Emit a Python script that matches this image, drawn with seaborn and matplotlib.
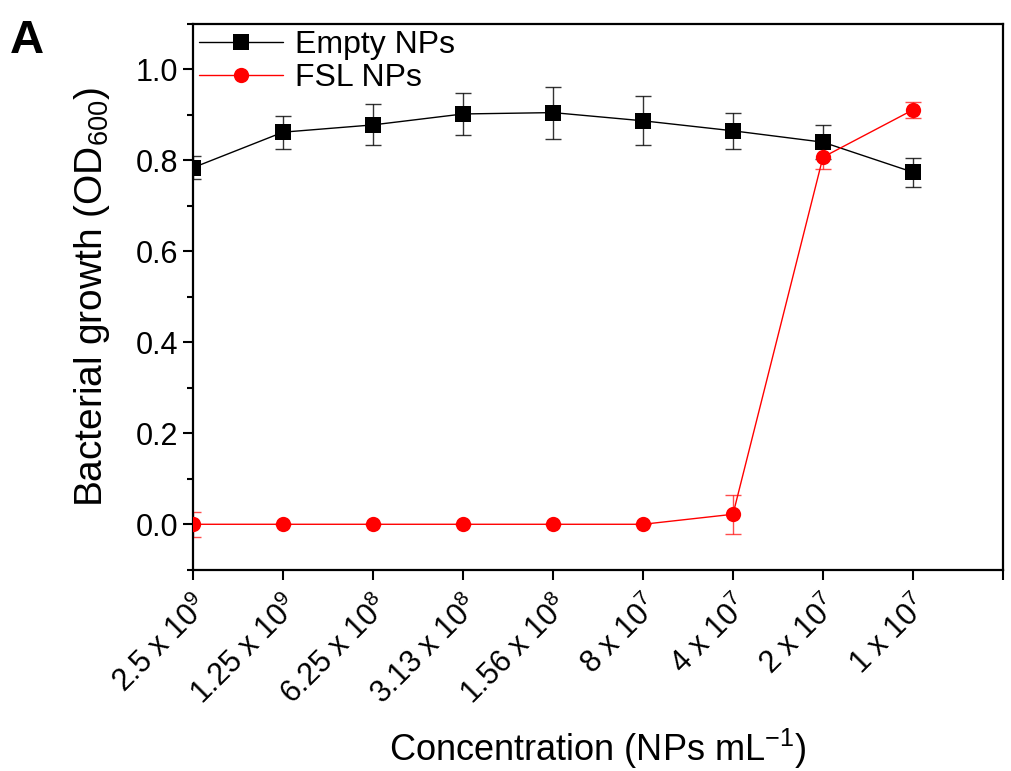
import matplotlib
matplotlib.use("Agg")
import matplotlib.pyplot as plt
from matplotlib.ticker import MultipleLocator
import numpy as np
import pandas as pd
import seaborn as sns

# ---- data ----
concentration_labels = ["2.5 x 10$^{9}$", "1.25 x 10$^{9}$", "6.25 x 10$^{8}$",
                        "3.13 x 10$^{8}$", "1.56 x 10$^{8}$", "8 x 10$^{7}$",
                        "4 x 10$^{7}$", "2 x 10$^{7}$", "1 x 10$^{7}$"]
empty_np = [0.784, 0.862, 0.878, 0.902, 0.905, 0.887, 0.865, 0.840, 0.774]
empty_err = [0.025, 0.036, 0.045, 0.046, 0.057, 0.054, 0.040, 0.038, 0.032]
fsl_np = [0.0, 0.0, 0.0, 0.0, 0.0, 0.0, 0.022, 0.807, 0.911]
fsl_err = [0.028, 0.0, 0.0, 0.0, 0.0, 0.0, 0.043, 0.026, 0.017]
series_names = ["Empty NPs", "FSL NPs"]
series_colors = ["#000000", "#ff0000"]

sns.set_style("ticks")
plt.rcParams["font.family"] = ["Liberation Sans", "DejaVu Sans"]
plt.rcParams["mathtext.default"] = "regular"
plt.rcParams["text.color"] = "black"
plt.rcParams["axes.labelcolor"] = "black"
plt.rcParams["xtick.color"] = "black"
plt.rcParams["ytick.color"] = "black"

pos = np.arange(len(concentration_labels))
df = pd.DataFrame({
    "x": np.concatenate([pos, pos]),
    "y": empty_np + fsl_np,
    "err": empty_err + fsl_err,
    "series": [series_names[0]] * len(pos) + [series_names[1]] * len(pos),
})

fig = plt.figure(figsize=(10.11, 7.71), dpi=100)
ax = fig.add_axes([0.191, 0.261, 0.801, 0.708])

palette = dict(zip(series_names, series_colors))
sns.lineplot(data=df, x="x", y="y", hue="series", style="series",
             markers={series_names[0]: "s", series_names[1]: "o"},
             dashes=False, palette=palette, markersize=11, linewidth=1.0,
             markeredgewidth=0, ax=ax, zorder=3)

for name, color in zip(series_names, series_colors):
    sub = df[df["series"] == name]
    ax.errorbar(sub["x"], sub["y"], yerr=sub["err"], fmt="none",
                ecolor=color, elinewidth=1.0, capsize=6, capthick=1.0, zorder=2,
                alpha=0.8 if color == "#000000" else 0.7)

ax.set_xlim(0, 9)
ax.set_ylim(-0.1, 1.1)
ax.set_xticks(np.arange(10))
ax.set_xticklabels(concentration_labels + [""], rotation=45, ha="right",
                   rotation_mode="anchor", fontsize=22)
ax.yaxis.set_major_locator(MultipleLocator(0.2))
ax.yaxis.set_minor_locator(MultipleLocator(0.1))
ax.set_yticks([0.0, 0.2, 0.4, 0.6, 0.8, 1.0])
ax.set_yticklabels(["0.0", "0.2", "0.4", "0.6", "0.8", "1.0"], fontsize=22)
ax.tick_params(axis="both", which="major", direction="out", length=7, width=1.5)
ax.tick_params(axis="y", which="minor", direction="out", length=4, width=1.5)
ax.tick_params(axis="x", pad=8)

for s in ax.spines.values():
    s.set_visible(True)
    s.set_linewidth(1.6)
    s.set_color("black")

ax.set_xlabel("Concentration (NPs mL$^{-1}$)", fontsize=26)
ax.xaxis.set_label_coords(0.5, -0.368)
ax.xaxis.label.set_va("bottom")
ax.set_ylabel("Bacterial growth (OD$_{600}$)", fontsize=28, labelpad=17)

leg = ax.legend(loc="upper left", frameon=False, fontsize=23, handlelength=2.6,
                borderaxespad=0.1, borderpad=0.1, labelspacing=0.1,
                handletextpad=0.4)

fig.text(0.01, 0.975, "A", fontsize=34, fontweight="bold", va="top", ha="left")

fig.savefig("out.png", dpi=100, facecolor="white")
